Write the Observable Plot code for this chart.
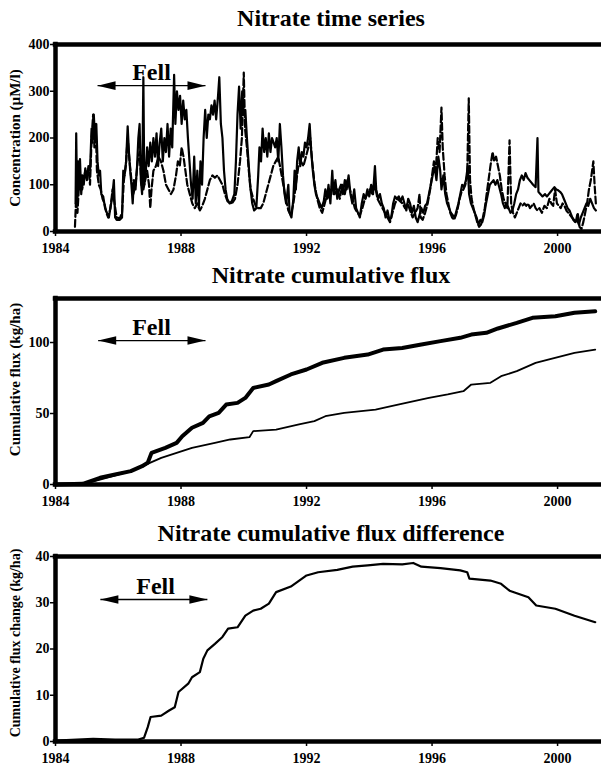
<!DOCTYPE html>
<html>
<head>
<meta charset="utf-8">
<script src="https://cdn.jsdelivr.net/npm/d3@7"></script>
<script src="https://cdn.jsdelivr.net/npm/@observablehq/plot@0.6"></script>
<style>
  body { margin: 0; width: 601px; height: 768px; overflow: hidden; background: white; position: relative; }
  .title { position: absolute; left: 331px; transform: translateX(-50%); white-space: nowrap;
           font-family: "Liberation Serif", serif; font-weight: bold; font-size: 24px; line-height: 24px; color: black; }
  .panel { position: absolute; left: 0; }
</style>
</head>
<body>
<script>
// ---------- DATA ----------
const xTicks = [1984, 1988, 1992, 1996, 2000];
const titles = ["Nitrate time series", "Nitrate cumulative flux", "Nitrate cumulative flux difference"];
const yLabels = ["Concentration (µM/l)", "Cumulative flux (kg/ha)", "Cumulative flux change (kg/ha)"];
const yTicks1 = [0, 100, 200, 300, 400];
const yTicks2 = [0, 50, 100];
const yTicks3 = [0, 10, 20, 30, 40];
const fellLabel = "Fell";

// Panel 1: nitrate concentration, felled catchment (solid) [year, µM/l]
const concFelled = [
[1984.64,60],[1984.66,210],[1984.69,60],[1984.72,150],[1984.75,90],[1984.78,155],[1984.82,80],[1984.86,120],[1984.9,100],[1984.95,135],
[1985.0,110],[1985.05,140],[1985.1,130],[1985.15,220],[1985.18,190],[1985.22,250],[1985.26,200],[1985.3,230],[1985.34,150],[1985.38,120],
[1985.42,130],[1985.46,80],[1985.52,75],[1985.58,50],[1985.64,40],[1985.7,30],[1985.76,55],[1985.8,70],[1985.86,110],[1985.9,30],
[1985.95,25],[1986.05,25],[1986.12,30],[1986.16,130],[1986.2,120],[1986.25,150],[1986.3,225],[1986.34,170],[1986.38,130],[1986.42,100],
[1986.46,60],[1986.5,110],[1986.55,90],[1986.6,140],[1986.64,200],[1986.68,230],[1986.72,110],[1986.76,80],[1986.8,330],[1986.83,100],
[1986.88,130],[1986.92,180],[1986.97,140],[1987.02,190],[1987.07,150],[1987.12,200],[1987.17,160],[1987.22,210],[1987.27,140],[1987.32,190],
[1987.37,220],[1987.42,150],[1987.47,200],[1987.52,170],[1987.57,230],[1987.62,160],[1987.67,220],[1987.72,180],[1987.78,335],[1987.82,230],
[1987.87,300],[1987.92,260],[1987.97,290],[1988.02,230],[1988.07,280],[1988.12,240],[1988.17,260],[1988.22,200],[1988.27,150],[1988.32,100],
[1988.37,70],[1988.42,160],[1988.47,60],[1988.52,130],[1988.57,50],[1988.62,150],[1988.67,100],[1988.72,200],[1988.77,260],[1988.82,200],
[1988.87,250],[1988.92,240],[1988.97,270],[1989.02,250],[1989.07,280],[1989.12,240],[1989.18,290],[1989.22,330],[1989.27,230],[1989.32,200],
[1989.37,130],[1989.42,90],[1989.47,70],[1989.55,60],[1989.62,65],[1989.7,80],[1989.75,150],[1989.8,250],[1989.85,310],[1989.9,220],
[1989.95,300],[1990.0,250],[1990.05,260],[1990.1,200],[1990.15,150],[1990.2,100],[1990.27,60],[1990.33,45],[1990.4,50],[1990.46,120],
[1990.5,180],[1990.55,150],[1990.6,220],[1990.65,170],[1990.7,200],[1990.75,160],[1990.8,210],[1990.85,170],[1990.9,200],[1990.95,190],
[1991.0,180],[1991.05,200],[1991.1,150],[1991.15,230],[1991.2,180],[1991.25,120],[1991.3,80],[1991.35,60],[1991.42,100],[1991.46,40],
[1991.52,30],[1991.58,70],[1991.62,130],[1991.66,90],[1991.7,150],[1991.75,180],[1991.8,140],[1991.85,170],[1991.9,160],[1991.95,190],
[1992.0,180],[1992.05,200],[1992.1,230],[1992.15,170],[1992.2,130],[1992.25,100],[1992.3,80],[1992.36,70],[1992.42,60],[1992.48,50],
[1992.55,65],[1992.6,90],[1992.65,70],[1992.7,100],[1992.76,60],[1992.82,130],[1992.86,80],[1992.92,110],[1992.98,70],[1993.04,90],
[1993.1,100],[1993.16,80],[1993.22,110],[1993.28,90],[1993.34,120],[1993.4,80],[1993.46,60],[1993.52,90],[1993.58,50],[1993.64,40],
[1993.7,30],[1993.76,60],[1993.82,80],[1993.88,70],[1993.94,90],[1994.0,75],[1994.06,100],[1994.12,80],[1994.18,140],[1994.22,90],
[1994.28,70],[1994.34,80],[1994.4,60],[1994.46,50],[1994.52,30],[1994.58,45],[1994.64,25],[1994.7,30],[1994.76,60],[1994.82,75],
[1994.88,70],[1994.94,75],[1995.0,65],[1995.06,75],[1995.12,60],[1995.18,45],[1995.24,70],[1995.3,60],[1995.36,40],[1995.42,55],
[1995.48,30],[1995.54,20],[1995.6,35],[1995.66,50],[1995.72,40],[1995.78,55],[1995.84,60],[1995.9,80],[1995.96,100],[1996.02,120],
[1996.08,140],[1996.14,110],[1996.2,160],[1996.26,130],[1996.3,90],[1996.36,120],[1996.42,80],[1996.48,60],[1996.54,50],[1996.6,40],
[1996.66,35],[1996.72,30],[1996.78,45],[1996.84,60],[1996.9,80],[1996.96,100],[1997.02,95],[1997.08,110],[1997.14,140],[1997.18,80],
[1997.24,60],[1997.3,50],[1997.36,40],[1997.42,30],[1997.48,15],[1997.54,25],[1997.6,20],[1997.66,35],[1997.72,60],[1997.78,80],
[1997.84,100],[1997.9,105],[1997.96,110],[1998.02,100],[1998.08,110],[1998.14,95],[1998.2,80],[1998.26,60],[1998.32,50],[1998.38,60],
[1998.44,50],[1998.5,40],[1998.56,45],[1998.62,60],[1998.68,80],[1998.74,90],[1998.8,110],[1998.86,120],[1998.92,110],[1998.98,125],
[1999.04,115],[1999.1,110],[1999.16,105],[1999.22,100],[1999.3,95],[1999.36,200],[1999.39,85],[1999.45,80],[1999.52,75],[1999.6,80],
[1999.66,75],[1999.72,80],[1999.78,85],[1999.84,90],[1999.9,95],[1999.96,90],[2000.02,88],[2000.08,85],[2000.14,80],[2000.2,70],
[2000.26,60],[2000.32,50],[2000.38,45],[2000.44,35],[2000.5,25],[2000.56,20],[2000.62,25],[2000.68,15],[2000.74,30],[2000.8,40],
[2000.86,50],[2000.92,60],[2000.98,55],[2001.04,70],[2001.1,60],[2001.16,50],[2001.22,45]
];
// Panel 1: nitrate concentration, control catchment (dashed) [year, µM/l]
const concControl = [
[1984.62,10],[1984.65,60],[1984.7,40],[1984.75,100],[1984.8,120],[1984.85,90],[1984.9,110],[1984.95,130],[1985.0,120],[1985.05,135],
[1985.1,100],[1985.15,200],[1985.2,250],[1985.24,180],[1985.28,230],[1985.32,130],[1985.38,100],[1985.44,90],[1985.5,70],[1985.56,60],
[1985.62,40],[1985.68,30],[1985.75,50],[1985.82,90],[1985.88,60],[1985.95,30],[1986.05,28],[1986.12,40],[1986.18,110],[1986.24,140],
[1986.3,200],[1986.36,150],[1986.42,110],[1986.48,80],[1986.55,100],[1986.62,150],[1986.68,170],[1986.74,100],[1986.8,90],[1986.86,110],
[1986.92,130],[1986.98,100],[1987.02,50],[1987.06,90],[1987.12,130],[1987.2,140],[1987.28,160],[1987.36,150],[1987.44,130],[1987.52,100],
[1987.6,90],[1987.68,80],[1987.76,90],[1987.84,120],[1987.9,150],[1987.96,140],[1988.02,180],[1988.08,160],[1988.14,130],[1988.2,100],
[1988.28,80],[1988.36,60],[1988.44,50],[1988.52,60],[1988.6,45],[1988.68,55],[1988.76,70],[1988.84,90],[1988.92,110],[1989.0,120],
[1989.08,115],[1989.16,120],[1989.24,110],[1989.32,100],[1989.4,80],[1989.48,65],[1989.56,60],[1989.64,62],[1989.72,70],[1989.8,100],
[1989.88,150],[1989.94,200],[1990.0,340],[1990.04,220],[1990.1,180],[1990.16,130],[1990.22,90],[1990.3,70],[1990.38,55],[1990.46,50],
[1990.54,50],[1990.62,60],[1990.7,80],[1990.78,100],[1990.86,120],[1990.94,140],[1991.02,150],[1991.1,160],[1991.18,130],[1991.26,100],
[1991.34,70],[1991.42,45],[1991.5,35],[1991.58,60],[1991.66,100],[1991.74,140],[1991.82,150],[1991.9,140],[1991.98,160],[1992.06,180],
[1992.12,200],[1992.18,150],[1992.26,100],[1992.34,70],[1992.42,50],[1992.5,40],[1992.58,60],[1992.66,80],[1992.74,70],[1992.82,100],
[1992.9,80],[1992.98,90],[1993.06,70],[1993.14,100],[1993.22,80],[1993.3,110],[1993.38,90],[1993.46,70],[1993.54,50],[1993.62,40],
[1993.7,35],[1993.78,50],[1993.86,70],[1993.94,80],[1994.02,90],[1994.1,80],[1994.18,100],[1994.26,70],[1994.34,60],[1994.42,50],
[1994.5,40],[1994.58,30],[1994.66,20],[1994.74,40],[1994.82,60],[1994.9,70],[1994.98,65],[1995.06,60],[1995.14,50],[1995.22,60],
[1995.3,45],[1995.38,30],[1995.46,40],[1995.54,50],[1995.6,80],[1995.64,30],[1995.7,25],[1995.78,40],[1995.86,60],[1995.94,90],
[1996.0,120],[1996.06,150],[1996.12,130],[1996.18,200],[1996.24,170],[1996.3,265],[1996.34,180],[1996.4,120],[1996.46,80],[1996.52,60],
[1996.58,40],[1996.64,30],[1996.7,25],[1996.76,35],[1996.82,50],[1996.88,70],[1996.94,85],[1997.0,90],[1997.06,100],[1997.12,120],
[1997.17,285],[1997.21,110],[1997.26,70],[1997.32,50],[1997.38,35],[1997.44,20],[1997.5,10],[1997.56,15],[1997.62,30],[1997.68,50],
[1997.74,80],[1997.8,110],[1997.86,140],[1997.93,170],[1997.98,150],[1998.04,160],[1998.1,140],[1998.16,120],[1998.22,90],[1998.28,70],
[1998.34,60],[1998.4,50],[1998.47,195],[1998.52,60],[1998.58,40],[1998.64,30],[1998.7,40],[1998.76,50],[1998.82,60],[1998.88,55],
[1998.94,60],[1999.0,55],[1999.06,60],[1999.12,50],[1999.18,55],[1999.24,60],[1999.3,50],[1999.36,45],[1999.42,50],[1999.5,40],
[1999.58,55],[1999.66,50],[1999.74,70],[1999.8,60],[1999.86,55],[1999.92,90],[1999.98,60],[2000.04,55],[2000.1,50],[2000.16,60],
[2000.22,55],[2000.28,45],[2000.34,40],[2000.4,35],[2000.46,30],[2000.52,25],[2000.58,20],[2000.64,40],[2000.7,10],[2000.76,5],
[2000.82,20],[2000.88,40],[2000.94,60],[2001.0,90],[2001.06,110],[2001.14,150],[2001.18,100],[2001.22,60]
];

// Panel 2: cumulative flux (kg/ha), felled (thick) and control (thin)
const fluxFelled = [
[1984.0,0],[1984.87,0.5],[1985.42,4.7],[1985.9,7],[1986.4,9.4],[1986.76,12.9],[1986.94,15.3],[1987.06,22.3],[1987.5,25.8],[1987.86,29.3],
[1988.04,34],[1988.35,40],[1988.7,43.4],[1988.9,48],[1989.2,50.5],[1989.44,56.3],[1989.8,57.5],[1990.05,61],[1990.3,68],[1990.8,70.4],
[1991.03,72.8],[1991.5,77.5],[1992.0,81],[1992.5,85.7],[1993.2,89.2],[1993.95,91.5],[1994.44,95],[1995.05,96.2],[1995.66,98.6],[1996.27,101],
[1996.9,103.3],[1997.25,105.6],[1997.73,106.8],[1998.1,109.9],[1998.7,113.8],[1999.2,117.4],[1999.93,118.5],[2000.54,121],[2001.2,122]
];
const fluxControl = [
[1984.0,0],[1984.87,0.3],[1985.42,3.5],[1986.4,9.4],[1986.88,14],[1987.37,18.8],[1987.86,22.3],[1988.35,25.8],[1989.08,29.3],[1989.57,31.7],
[1990.18,33.3],[1990.3,37.6],[1991.03,38.7],[1991.76,42.3],[1992.25,44.6],[1992.6,48.1],[1993.2,50.5],[1994.2,52.8],[1994.7,55.2],[1995.17,57.5],
[1995.9,61],[1996.5,63.4],[1997.0,65.7],[1997.25,70.4],[1997.86,71.6],[1998.2,76.3],[1998.7,79.8],[1999.3,85.7],[1999.7,88],[2000.54,92.7],[2001.2,95]
];

// Panel 3: cumulative flux difference (kg/ha)
const fluxDiff = [
[1984.0,0.2],[1985.2,0.6],[1985.9,0.4],[1986.64,0.4],[1986.82,0.8],[1986.94,3.1],[1987.03,5.3],[1987.37,5.6],[1987.62,6.7],[1987.8,7.4],
[1987.92,10.7],[1988.23,12.5],[1988.35,13.9],[1988.6,15],[1988.71,17.9],[1988.84,19.7],[1989.08,21.1],[1989.32,22.6],[1989.5,24.4],[1989.8,24.7],
[1990.05,27.2],[1990.3,28.3],[1990.54,28.7],[1990.8,29.8],[1991.03,32.3],[1991.5,33.5],[1992.0,35.9],[1992.37,36.6],[1992.98,37.1],[1993.47,37.8],
[1993.95,38.1],[1994.44,38.4],[1995.05,38.3],[1995.4,38.6],[1995.66,37.8],[1996.27,37.5],[1996.9,37.0],[1997.12,36.6],[1997.19,35.2],[1997.86,34.8],
[1998.2,34.1],[1998.47,32.6],[1999.07,31.2],[1999.32,29.4],[1999.93,28.7],[2000.54,27.2],[2001.2,25.8]
];

// "Fell" period arrows: [start year, end year, arrow level, label level]
const fellArrow1 = [1985.34, 1988.78, 312, 323];
const fellArrow2 = [1985.36, 1988.78, 101.4, 105];
const fellArrow3 = [1985.43, 1988.84, 30.7, 31.8];
const fellLabelYear = [1987.06, 1987.06, 1987.19];

// ---------- DRAWING ----------
const toRows = arr => arr.map(([t, v]) => ({t, v}));
const font = "'Liberation Serif', 'Times New Roman', serif";

const leftHead = { draw(ctx) { ctx.moveTo(0, 0); ctx.lineTo(18, -4.3); ctx.lineTo(18, 4.3); ctx.closePath(); } };
const rightHead = { draw(ctx) { ctx.moveTo(0, 0); ctx.lineTo(-18, -4.3); ctx.lineTo(-18, 4.3); ctx.closePath(); } };

function fellMarks(a, labelYear) {
  const [x1, x2, ya, yl] = a;
  return [
    Plot.link([a], {x1: () => x1, x2: () => x2, y1: () => ya, y2: () => ya, stroke: "black", strokeWidth: 1.3}),
    Plot.dot([a], {x: () => x1, y: () => ya, symbol: leftHead, fill: "black", stroke: "none"}),
    Plot.dot([a], {x: () => x2, y: () => ya, symbol: rightHead, fill: "black", stroke: "none"}),
    Plot.text([fellLabel], {x: () => labelYear, y: () => yl, text: d => d, textAnchor: "middle", lineAnchor: "bottom",
      fontSize: 24, fontWeight: "bold", fontFamily: font})
  ];
}

function panel({top, height, marginBottom, ymax, yTicks, yLabel, yLabelSize, yLabelDy, lines, arrow, labelYear}) {
  const svg = Plot.plot({
    width: 601, height, marginLeft: 55, marginRight: 0, marginTop: 10, marginBottom,
    x: {domain: [1984, 2001.4]},
    y: {domain: [0, ymax]},
    style: {fontFamily: font, fontSize: "14px", fontWeight: "bold", background: "white", color: "black", overflow: "visible"},
    marks: [
      Plot.axisX({ticks: xTicks, tickFormat: d => String(d), tickSize: 5, tickPadding: 7, label: null, strokeWidth: 1.5, fontSize: 14}),
      Plot.axisY({ticks: yTicks, tickSize: 5, tickPadding: 1, label: null, strokeWidth: 1.5, fontSize: 14}),
      ...lines,
      Plot.ruleY([0, ymax], {strokeWidth: 4.5, strokeLinecap: "square"}),
      Plot.ruleX([1984], {strokeWidth: 4.5, strokeLinecap: "square"}),
      ...fellMarks(arrow, labelYear),
      Plot.text([yLabel], {frameAnchor: "left", text: d => d, rotate: -90, dx: -40, dy: yLabelDy, textAnchor: "middle",
        lineAnchor: "middle", fontSize: yLabelSize, fontWeight: "bold", fontFamily: font})
    ]
  });
  svg.classList.add("panel");
  svg.style.top = top + "px";
  document.body.appendChild(svg);
}

function addTitle(text, top) {
  const d = document.createElement("div");
  d.className = "title";
  d.textContent = text;
  d.style.top = top + "px";
  document.body.appendChild(d);
}

addTitle(titles[0], 6);
addTitle(titles[1], 263);
addTitle(titles[2], 521);

panel({
  top: 34, height: 227, marginBottom: 30, ymax: 400, yTicks: yTicks1, yLabel: yLabels[0], yLabelSize: 15, yLabelDy: 0,
  lines: [
    Plot.line(toRows(concControl), {x: "t", y: "v", stroke: "black", strokeWidth: 2.2, strokeDasharray: "7,3"}),
    Plot.line(toRows(concFelled), {x: "t", y: "v", stroke: "black", strokeWidth: 2.2})
  ],
  arrow: fellArrow1, labelYear: fellLabelYear[0]
});

panel({
  top: 288, height: 226, marginBottom: 30, ymax: 131, yTicks: yTicks2, yLabel: yLabels[1], yLabelSize: 15, yLabelDy: -12,
  lines: [
    Plot.line(toRows(fluxControl), {x: "t", y: "v", stroke: "black", strokeWidth: 1.8}),
    Plot.line(toRows(fluxFelled), {x: "t", y: "v", stroke: "black", strokeWidth: 4})
  ],
  arrow: fellArrow2, labelYear: fellLabelYear[1]
});

panel({
  top: 546, height: 222, marginBottom: 27, ymax: 40, yTicks: yTicks3, yLabel: yLabels[2], yLabelSize: 14, yLabelDy: -6,
  lines: [
    Plot.line(toRows(fluxDiff), {x: "t", y: "v", stroke: "black", strokeWidth: 2.2})
  ],
  arrow: fellArrow3, labelYear: fellLabelYear[2]
});
</script>
</body>
</html>
